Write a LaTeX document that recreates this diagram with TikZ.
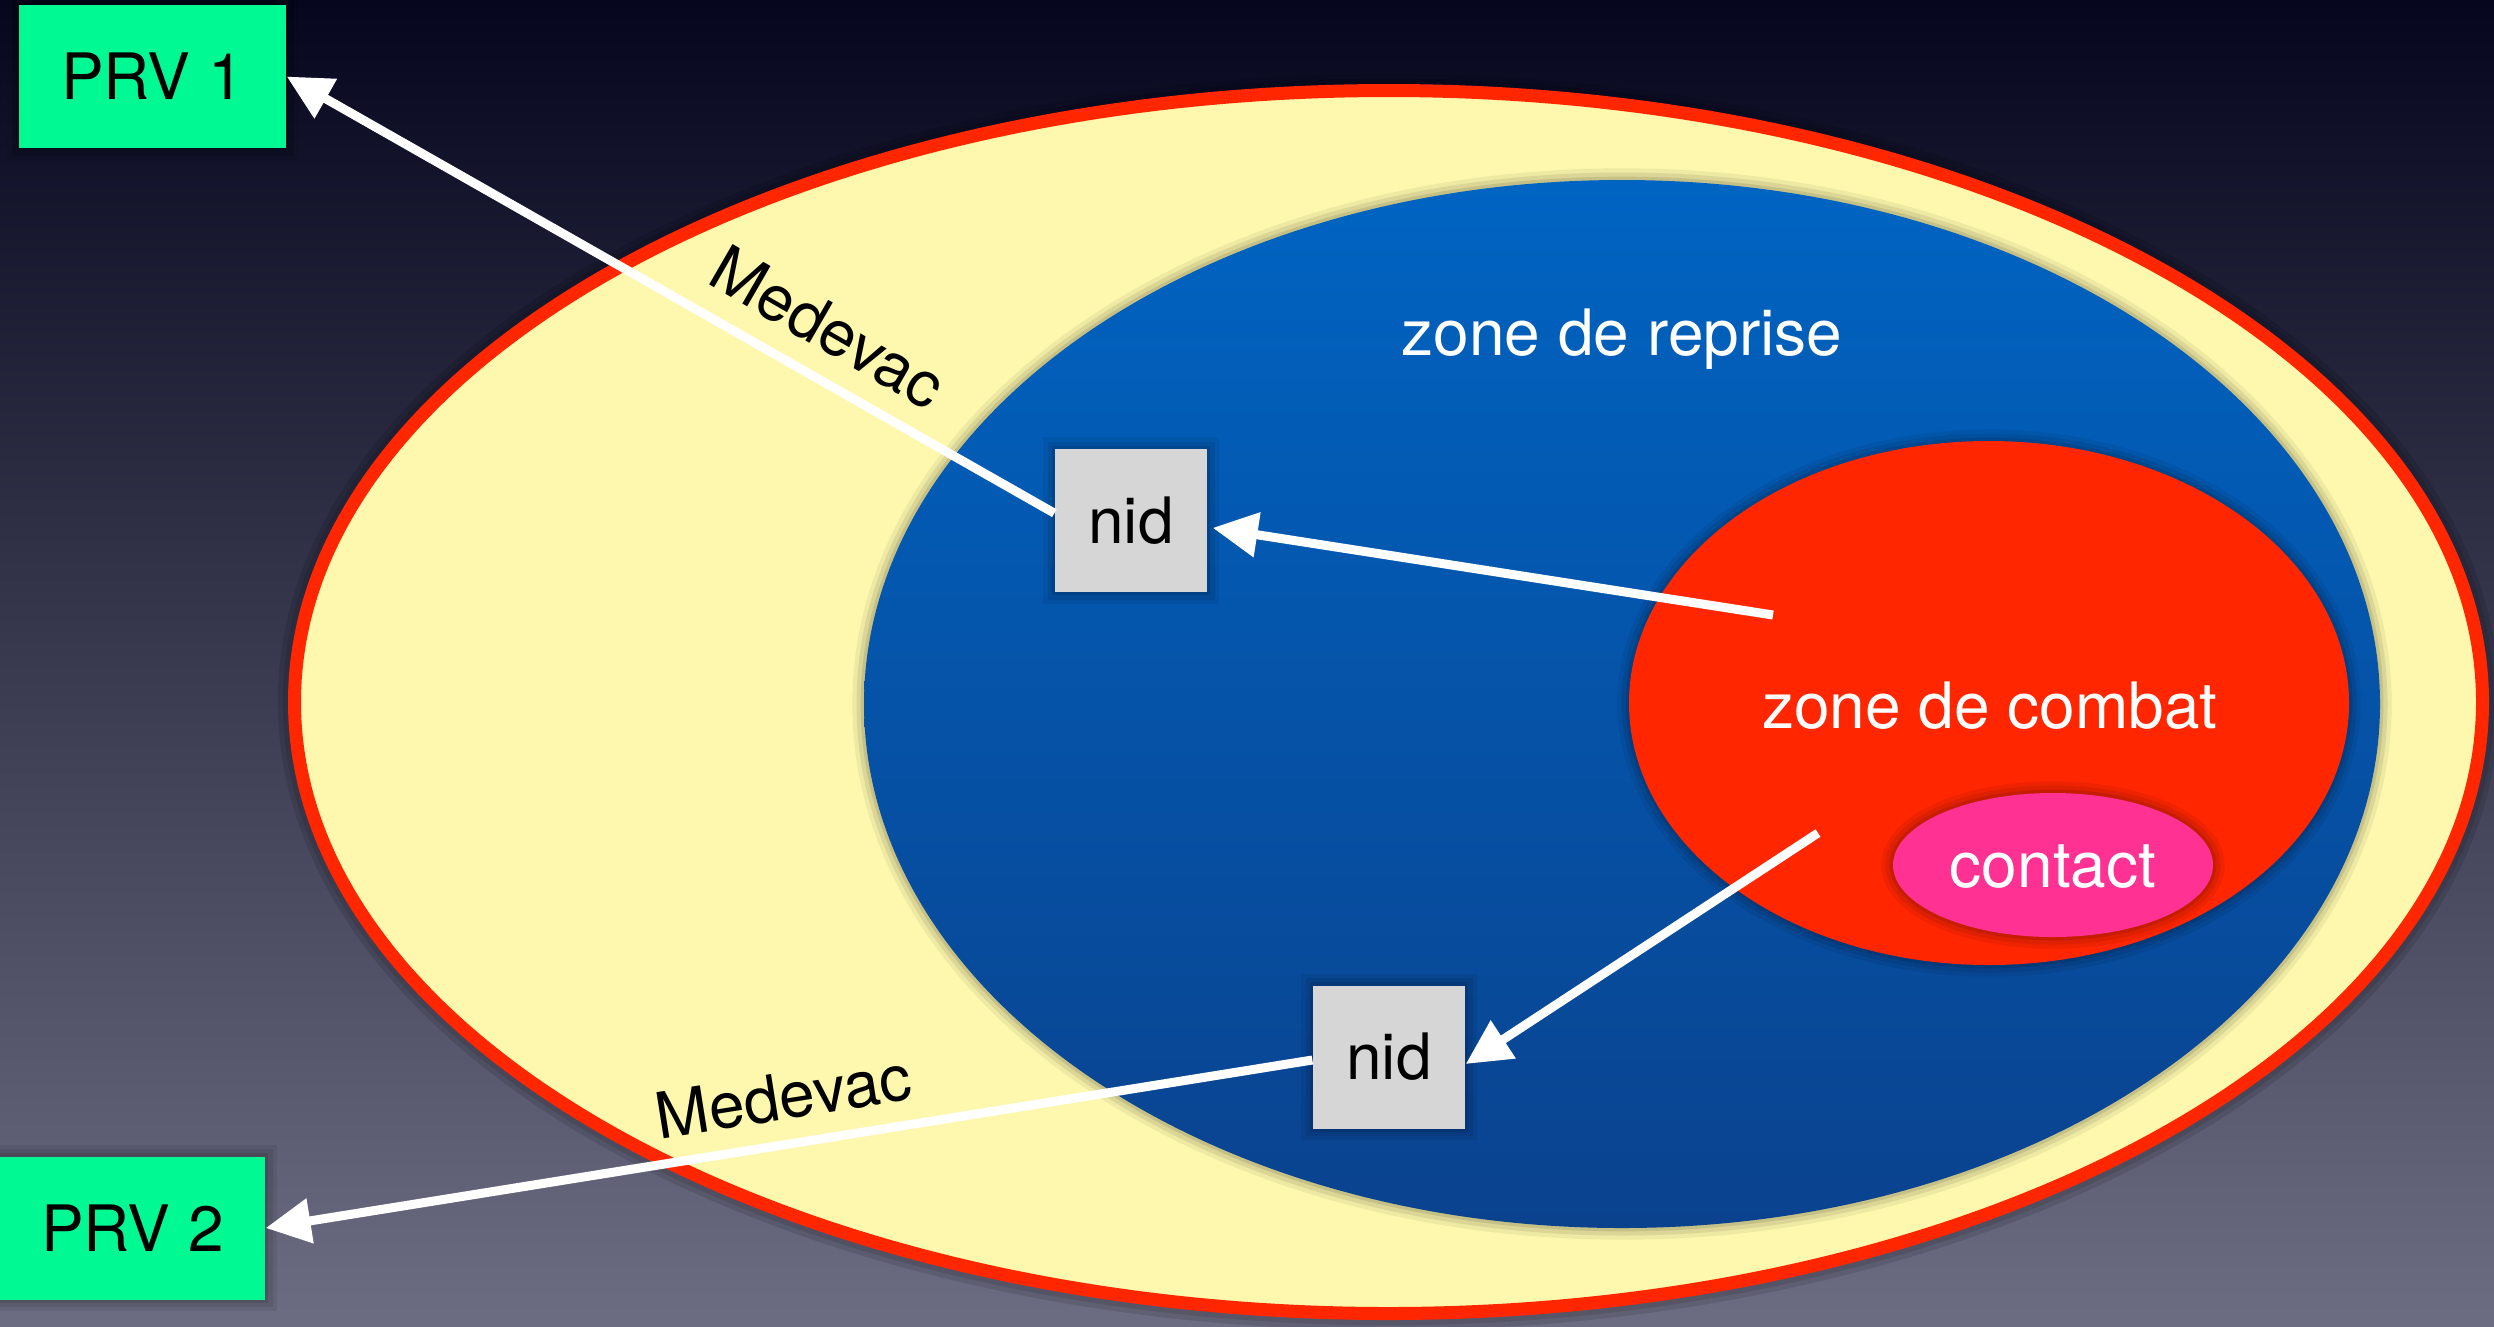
\documentclass[tikz,border=0pt]{standalone}
\usepackage{fontspec}
\setmainfont{TeX Gyre Heros}
\usetikzlibrary{arrows.meta}
\definecolor{bgtop}{HTML}{06061E}
\definecolor{bgbot}{HTML}{6C6C82}
\definecolor{yel}{HTML}{FDF8AE}
\definecolor{zred}{HTML}{FF2600}
\definecolor{bltop}{HTML}{0064C2}
\definecolor{blbot}{HTML}{0A428E}
\definecolor{zpink}{HTML}{FF3193}
\definecolor{prvgreen}{HTML}{00F992}
\definecolor{nidgray}{HTML}{D6D6D6}
\begin{document}
\begin{tikzpicture}[x=0.3pt,y=-0.3pt,
  glow/.style={preaction={draw=black,draw opacity=0.06,line width=7pt},
               preaction={draw=black,draw opacity=0.08,line width=4.5pt},
               preaction={draw=black,draw opacity=0.10,line width=2pt}},
  lbl/.style={font=\fontsize{19.2}{23}\selectfont, inner sep=0pt},
  prvbox/.style={glow, fill=prvgreen, minimum width=80.1pt, minimum height=42.9pt, inner sep=0pt, lbl, text=black},
  nidbox/.style={glow, fill=nidgray, minimum width=45.6pt, minimum height=42.9pt, inner sep=0pt, lbl, text=black},
  flow/.style={white, line width=2.7pt, -{Triangle[length=13.5pt,width=13pt]}},
]
\shade[top color=bgtop, bottom color=bgbot] (0,0) rectangle (2494,1326);
\useasboundingbox (0,0) rectangle (2494,1326);

% regions
\path[preaction={draw=black,draw opacity=0.10,line width=10pt},
      preaction={draw=black,draw opacity=0.10,line width=7pt},
      draw=zred, line width=3.9pt, fill=yel] (1388.5,702) ellipse [x radius=1094, y radius=611.5];
\path[glow, top color=bltop, bottom color=blbot] (1622,704) ellipse [x radius=758, y radius=524];
\path[glow, fill=zred] (1989,703) ellipse [x radius=360, y radius=262];
\path[glow, fill=zpink] (2053,865) ellipse [x radius=160, y radius=72];

% labels
\node[lbl, white, anchor=base] (zr) at (1622,355) {zone de reprise};
\node[lbl, white, anchor=base] (zc) at (1990,728) {zone de combat};
\node[lbl, white, anchor=base] (ct) at (2053,887) {contact};
\node[lbl, anchor=base, rotate=-30] (m1) at (817,347) {Medevac};
\node[lbl, anchor=base, rotate=9] (m2) at (787,1119) {Medevac};

% boxes
\node[prvbox] (prv1) at (152.5,76.5) {PRV 1};
\node[prvbox, minimum width=79.5pt] (prv2) at (132.5,1228) {PRV 2};
\node[nidbox] (nid1) at (1131,520.5) {nid};
\node[nidbox] (nid2) at (1389,1057) {nid};

% arrow free ends
\coordinate (a2s) at (1773,615);
\coordinate (a3s) at (1818,833);

\draw[flow] ([yshift=2.2pt]nid1.west) -- (prv1.east);
\draw[flow] (a2s) -- ([xshift=1.5pt,yshift=-2.2pt]nid1.east);
\draw[flow] (a3s) -- ([yshift=-2.1pt]nid2.east);
\draw[flow] ([yshift=-0.9pt]nid2.west) -- (prv2.east);
\end{tikzpicture}
\end{document}
